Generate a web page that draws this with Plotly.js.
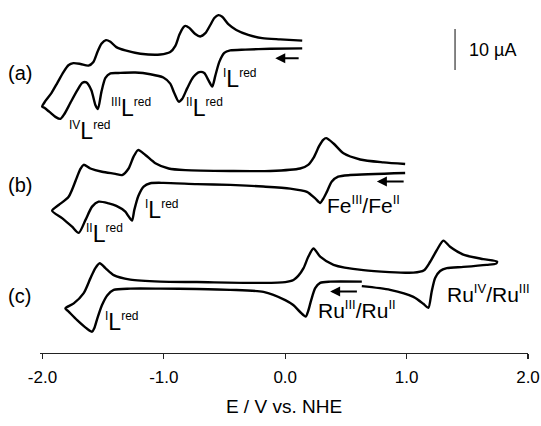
<!DOCTYPE html>
<html>
<head>
<meta charset="utf-8">
<script src="https://cdn.plot.ly/plotly-3.0.1.min.js"></script>
<style>html,body{margin:0;padding:0;background:#fff;}#chart{width:541px;height:426px;}</style>
</head>
<body>
<div id="chart"></div>
<script>
// Potential (V vs. NHE) and current (µA, with each trace's vertical offset)
const E_a = [0.140,-0.123,-0.329,-0.453,-0.502,-0.543,-0.576,-0.601,-0.634,-0.667,-0.708,-0.757,-0.807,-0.848,-0.877,-0.914,-0.947,-1.004,-1.111,-1.235,-1.374,-1.440,-1.481,-1.514,-1.543,-1.564,-1.597,-1.638,-1.671,-1.712,-1.770,-1.819,-1.852,-1.893,-1.942,-1.984,-2.002,-1.975,-1.926,-1.877,-1.827,-1.786,-1.745,-1.687,-1.621,-1.580,-1.547,-1.514,-1.477,-1.440,-1.391,-1.317,-1.193,-1.029,-0.947,-0.905,-0.872,-0.840,-0.823,-0.790,-0.741,-0.700,-0.658,-0.617,-0.584,-0.551,-0.519,-0.469,-0.403,-0.305,-0.189,-0.041,0.140];
const I_a = [74.3,74.2,74.0,73.8,73.2,71.0,67.6,65.0,66.6,68.3,68.5,67.3,64.6,62.0,61.3,63.4,65.7,67.2,68.0,68.4,68.3,68.2,67.1,63.7,59.5,60.5,64.1,66.0,65.9,64.1,61.0,58.3,57.1,57.6,58.8,59.8,60.1,61.5,63.4,65.9,68.5,70.2,70.7,70.5,70.1,71.0,73.4,75.4,76.3,75.9,74.6,73.8,73.0,72.8,73.4,74.9,77.6,79.4,79.8,79.3,77.8,77.2,78.0,80.0,81.7,82.4,82.0,80.2,78.8,77.6,76.8,76.5,76.2];

const E_b = [0.988,0.535,0.436,0.384,0.343,0.313,0.288,0.247,0.179,0.041,-0.181,-0.453,-0.727,-1.002,-1.111,-1.166,-1.210,-1.243,-1.262,-1.292,-1.317,-1.391,-1.454,-1.537,-1.591,-1.646,-1.701,-1.756,-1.838,-1.920,-1.866,-1.784,-1.714,-1.687,-1.660,-1.605,-1.509,-1.399,-1.344,-1.290,-1.249,-1.212,-1.152,-1.070,-0.960,-0.823,-0.453,-0.123,0.123,0.189,0.233,0.280,0.313,0.337,0.398,0.480,0.617,0.809,0.988];
const I_b = [43.9,43.4,43.0,41.8,39.3,37.6,36.6,37.7,39.3,40.1,40.6,41.0,41.2,41.5,41.4,40.6,38.3,34.9,32.3,33.4,34.5,35.9,36.5,36.9,35.7,32.4,29.3,30.8,32.9,34.7,36.1,38.1,43.0,44.9,45.9,45.0,44.2,43.7,43.4,45.0,47.9,49.5,48.3,46.3,45.0,44.6,44.4,44.4,45.0,45.9,47.6,50.5,52.0,52.4,51.1,48.7,47.2,46.5,46.1];

const E_c = [0.631,0.370,0.288,0.247,0.214,0.189,0.169,0.123,0.066,0.000,-0.179,-0.453,-0.727,-1.029,-1.276,-1.413,-1.465,-1.509,-1.547,-1.572,-1.591,-1.632,-1.714,-1.784,-1.811,-1.742,-1.660,-1.605,-1.564,-1.528,-1.481,-1.413,-1.276,-1.029,-0.727,-0.179,0.000,0.068,0.107,0.151,0.189,0.233,0.288,0.398,0.644,1.056,1.144,1.193,1.249,1.303,1.358,1.467,1.632,1.745,1.737,1.660,1.467,1.331,1.276,1.235,1.206,1.179,1.138,1.056,0.864,0.631];
const I_c = [17.4,17.4,17.1,15.8,12.9,10.2,8.9,10.0,11.7,12.9,14.9,15.4,15.6,15.7,15.7,15.4,14.1,11.7,8.5,6.1,5.2,5.9,8.0,10.1,10.9,12.1,14.6,18.2,20.7,21.9,20.7,19.0,17.9,17.4,17.3,17.1,17.3,17.8,18.8,20.7,23.4,25.5,23.5,21.5,20.2,19.6,20.2,22.2,25.1,27.4,25.9,24.0,22.9,22.3,21.8,21.5,21.0,20.7,20.0,18.3,14.9,11.0,12.0,13.7,15.4,16.3];

const xTicks = [-2, -1, 0, 1, 2];
const xTickText = ['-2.0', '-1.0', '0.0', '1.0', '2.0'];
const panelLabels = ['(a)', '(b)', '(c)'];
// [left superscript, main, right superscript]
const ligandLabels = [['IV', 'L', 'red'], ['III', 'L', 'red'], ['II', 'L', 'red'], ['I', 'L', 'red'],
                      ['II', 'L', 'red'], ['I', 'L', 'red'], ['I', 'L', 'red']];
const metalLabels = [['Fe', 'III', 'Fe', 'II'], ['Ru', 'III', 'Ru', 'II'], ['Ru', 'IV', 'Ru', 'III']];
const scaleBarText = '10 \u00B5A';
const scaleBarValue = 10;

const FONT = 'Liberation Sans, Arial, Helvetica, sans-serif';
const lineStyle = {color: '#000', width: 2.4, shape: 'spline', smoothing: 0.7};
const traces = [[E_a, I_a], [E_b, I_b], [E_c, I_c]].map(([x, y]) => ({
  x, y, type: 'scatter', mode: 'lines', line: lineStyle, hoverinfo: 'skip', showlegend: false
}));

const SUP = (s, px) => '<sup><span style="font-size:' + px + 'px">' + s + '</span></sup>';
const ligandPos = [[-1.800, 54.2], [-1.455, 59.8], [-0.832, 59.8], [-0.527, 66.8],
                   [-1.658, 29.0], [-1.170, 34.9], [-1.500, 7.5]];
const metalPos = [[0.329, 36.3], [0.255, 10.5], [1.317, 14.6]];
const panelPos = [0.793, 0.476, 0.161];
const annotations = [];
ligandLabels.forEach((p, i) => annotations.push({
  x: ligandPos[i][0], y: ligandPos[i][1], xref: 'x', yref: 'y',
  text: SUP(p[0], 12) + p[1] + SUP(p[2], 12), showarrow: false,
  xanchor: 'left', yanchor: 'middle', font: {family: FONT, size: 23, color: '#000'}
}));
metalLabels.forEach((p, i) => annotations.push({
  x: metalPos[i][0], y: metalPos[i][1], xref: 'x', yref: 'y',
  text: p[0] + SUP(p[1], 13) + '/' + p[2] + SUP(p[3], 13), showarrow: false,
  xanchor: 'left', yanchor: 'middle', font: {family: FONT, size: 21, color: '#000'}
}));
panelLabels.forEach((t, i) => annotations.push({
  x: -0.07, y: panelPos[i], xref: 'paper', yref: 'paper', text: t, showarrow: false,
  xanchor: 'left', yanchor: 'middle', font: {family: FONT, size: 20, color: '#000'}
}));
// scan-direction arrows
[[-0.082, 0.123, 71.9], [0.755, 0.988, 41.8], [0.370, 0.603, 15.0]].forEach(([h, t, y]) => annotations.push({
  x: h, y: y, ax: t, ay: y, xref: 'x', yref: 'y', axref: 'x', ayref: 'y', text: '',
  showarrow: true, arrowhead: 2, arrowsize: 1, arrowwidth: 2, arrowcolor: '#000', standoff: 0, startstandoff: 0
}));
annotations.push({
  x: 1.495, y: 73.9, xref: 'x', yref: 'y', text: scaleBarText, showarrow: false,
  xanchor: 'left', yanchor: 'middle', font: {family: FONT, size: 18, color: '#000'}
});

const layout = {
  width: 541, height: 426,
  margin: {l: 40, r: 13, t: 0, b: 73},
  paper_bgcolor: '#fff', plot_bgcolor: '#fff',
  font: {family: FONT, color: '#000'},
  xaxis: {
    range: [-2.02, 2.0], tickvals: xTicks, ticktext: xTickText,
    showgrid: false, zeroline: false, showline: true, linecolor: '#222', linewidth: 1.2,
    ticks: 'outside', ticklen: 5, tickwidth: 1.3, tickcolor: '#222', ticklabelstandoff: 3,
    tickfont: {family: FONT, size: 17, color: '#000'},
    title: {text: 'E / V vs. NHE', font: {family: FONT, size: 19, color: '#000'}, standoff: 14}
  },
  yaxis: {range: [0, 86.1], visible: false, showgrid: false, zeroline: false},
  shapes: [{type: 'line', xref: 'x', yref: 'y', x0: 1.399, x1: 1.399, y0: 69.0, y1: 69.0 + scaleBarValue,
    line: {color: '#333', width: 1.2}}],
  annotations
};
Plotly.newPlot('chart', traces, layout, {staticPlot: true, displayModeBar: false});
</script>
</body>
</html>
